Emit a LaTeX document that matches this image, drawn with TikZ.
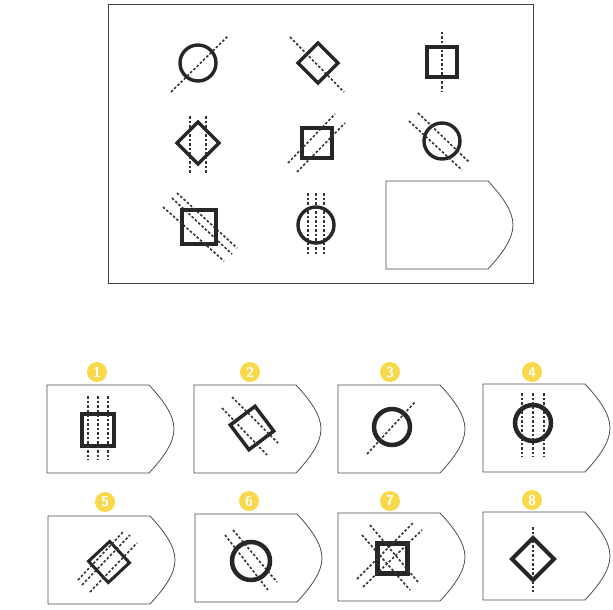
\documentclass[tikz,border=0pt]{standalone}
\definecolor{numyellow}{HTML}{F9D849}
\tikzset{
  card/.pic={
    \draw[cardline] (0,0) -- (102,0) .. controls (116,15) and (127,30) .. (127,44)
      .. controls (127,58) and (116,73) .. (102,88) -- (0,88) -- cycle;
  }
}
\begin{document}
\begin{tikzpicture}[x=1pt,y=-1pt,
    frame/.style={draw=black!75,line width=0.8pt},
    cardline/.style={draw=black!70,line width=0.8pt},
    fig/.style={draw=black!85,line width=3.4pt},
    optfig/.style={draw=black!85,line width=4pt},
    dots/.style={draw=black!80,line width=1.6pt,dash pattern=on 2.5pt off 2pt},
    num/.style={circle,fill=numyellow,text=white,inner sep=0pt,minimum size=20pt,
      font=\sffamily\bfseries\Large}]
  \useasboundingbox (0,0) rectangle (613,610);
  \draw[frame] (108,4) rectangle (533,283);

  \draw[fig] (198,63) circle (18);
  \draw[dots] (171,92) -- (228,36);
  \draw[fig] (298,63) -- (318,43) -- (338,63) -- (318,83) -- cycle;
  \draw[dots] (290,37) -- (344,92);
  \draw[fig] (427,47) rectangle (457,77);
  \draw[dots] (442,32) -- (442,92);

  \draw[fig] (177,143) -- (198,122) -- (219,143) -- (198,164) -- cycle;
  \draw[dots] (190,116) -- (190,173);
  \draw[dots] (206,116) -- (206,173);
  \draw[fig] (302,128) rectangle (332,158);
  \draw[dots] (288,163) -- (335,114);
  \draw[dots] (297,172) -- (345,123);
  \draw[fig] (442,141) circle (18);
  \draw[dots] (418,113) -- (469,162);
  \draw[dots] (409,121) -- (462,170);

  \draw[fig] (182,210) rectangle (216,244);
  \draw[dots] (177,193) -- (237,248);
  \draw[dots] (172,198) -- (232,254);
  \draw[dots] (163,207) -- (224,261);
  \draw[fig] (316,225) circle (18);
  \draw[dots] (308,193) -- (308,255);
  \draw[dots] (316,193) -- (316,255);
  \draw[dots] (324,193) -- (324,255);
  \pic (q) at (386,181) {card};

  \pic (a1) at (47,385) {card};
  \pic (a2) at (194,385) {card};
  \pic (a3) at (338,385) {card};
  \pic (a4) at (483,384) {card};
  \pic (a5) at (48,516) {card};
  \pic (a6) at (195,514) {card};
  \pic (a7) at (338,513) {card};
  \pic (a8) at (483,512) {card};

  \node[num] (n1) at (97,372) {1};
  \node[num] (n2) at (250,372) {2};
  \node[num] (n3) at (390,372) {3};
  \node[num] (n4) at (532,372) {4};
  \node[num] (n5) at (105,502) {5};
  \node[num] (n6) at (249,501) {6};
  \node[num] (n7) at (390,501) {7};
  \node[num] (n8) at (532,500) {8};

  \draw[optfig] (82,414) rectangle (114,446);
  \draw[dots] (88,396) -- (88,460);
  \draw[dots] (98,396) -- (98,460);
  \draw[dots] (108,396) -- (108,460);

  \draw[optfig,line width=3.5pt,rotate around={37:(252,428)}] (236.5,412.5) rectangle (267.5,443.5);
  \draw[dots] (222,408) -- (267,455);
  \draw[dots] (232,397) -- (278,443);

  \draw[optfig,line width=4.5pt] (392,427) circle (18);
  \draw[dots] (367,454) -- (415,402);

  \draw[optfig,line width=4.5pt] (533,423) circle (18);
  \draw[dots] (522,393) -- (522,457);
  \draw[dots] (533,393) -- (533,457);
  \draw[dots] (544,393) -- (544,457);

  \draw[optfig,line width=3pt,rotate around={43:(109,562)}] (94.5,547.5) rectangle (123.5,576.5);
  \draw[dots] (78,580) -- (123,532);
  \draw[dots] (82,585) -- (130,535);
  \draw[dots] (90,592) -- (137,543);

  \draw[optfig,line width=4.5pt] (251,561) circle (19);
  \draw[dots] (225,535) -- (268,590);
  \draw[dots] (233,530) -- (277,582);

  \draw[optfig,line width=5pt] (377,543) rectangle (407,573);
  \draw[dots] (357,579) -- (413,523);
  \draw[dots] (363,587) -- (422,530);
  \draw[dots] (362,535) -- (410,590);
  \draw[dots] (370,525) -- (418,582);

  \draw[optfig] (512,559) -- (533,538) -- (554,559) -- (533,580) -- cycle;
  \draw[dots] (533,527) -- (533,592);
\end{tikzpicture}
\end{document}
